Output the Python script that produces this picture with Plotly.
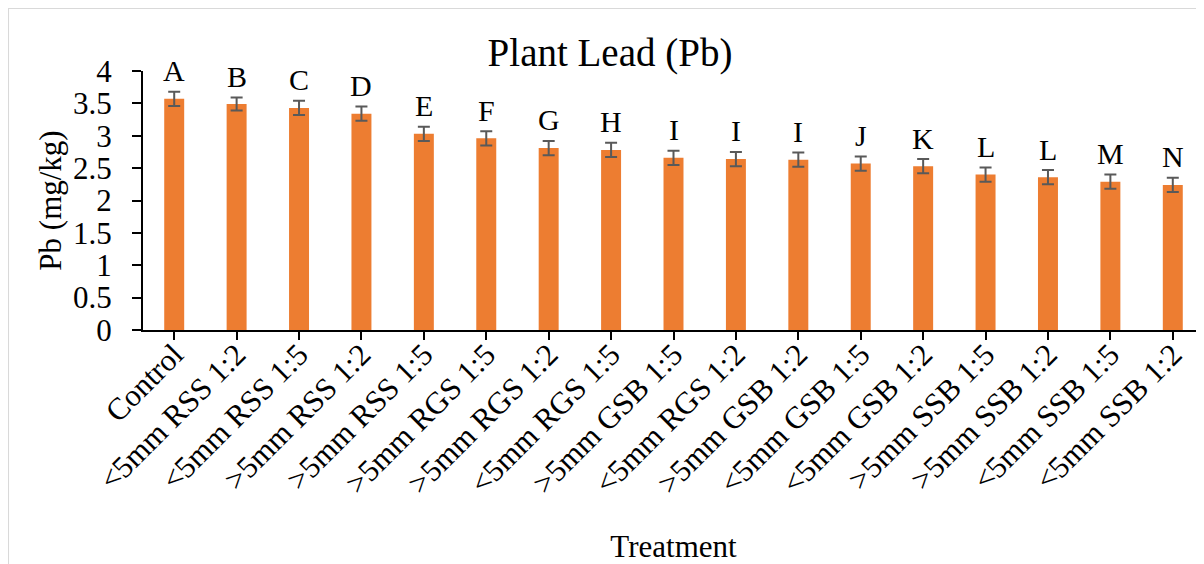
import plotly.graph_objects as go

categories = [
    "Control", "<5mm RSS 1:2", "<5mm RSS 1:5", ">5mm RSS 1:2", ">5mm RSS 1:5",
    ">5mm RGS 1:5", ">5mm RGS 1:2", "<5mm RGS 1:5", ">5mm GSB 1:5", "<5mm RGS 1:2",
    ">5mm GSB 1:2", "<5mm GSB 1:5", "<5mm GSB 1:2", ">5mm SSB 1:5", ">5mm SSB 1:2",
    "<5mm SSB 1:5", "<5mm SSB 1:2",
]
pb_values = [3.57, 3.49, 3.43, 3.34, 3.03, 2.96, 2.81, 2.78, 2.66, 2.64,
             2.63, 2.57, 2.53, 2.40, 2.36, 2.29, 2.24]
pb_errors = [0.11, 0.10, 0.11, 0.11, 0.11, 0.11, 0.11, 0.11, 0.11, 0.11,
             0.11, 0.11, 0.11, 0.11, 0.11, 0.11, 0.11]
letters = ["A", "B", "C", "D", "E", "F", "G", "H", "I", "I",
           "I", "J", "K", "L", "L", "M", "N"]
y_ticks = [0, 0.5, 1, 1.5, 2, 2.5, 3, 3.5, 4]

FONT = "Liberation Serif, Times New Roman, serif"

fig = go.Figure()
fig.add_trace(go.Bar(
    x=categories,
    y=pb_values,
    width=0.32,
    marker=dict(color="#ED7D31", line=dict(width=0)),
    error_y=dict(type="data", array=pb_errors, visible=True,
                 color="#595959", thickness=2, width=6),
    showlegend=False,
))

for cat, v, e, lab in zip(categories, pb_values, pb_errors, letters):
    fig.add_annotation(x=cat, y=v + e, text=lab, showarrow=False,
                       xref="x", yref="y", yanchor="middle", yshift=21,
                       font=dict(family=FONT, size=30, color="#000000"))

# light grey chart-area border (left and top edges visible)
fig.add_shape(type="rect", xref="paper", yref="paper",
              x0=-0.1272, x1=1.2, y0=-1.2, y1=1.243,
              line=dict(color="#D9D9D9", width=2), layer="below")

fig.update_layout(
    width=1196, height=556,
    margin=dict(l=135, r=0, t=63, b=234, autoexpand=False),
    paper_bgcolor="white", plot_bgcolor="white",
    font=dict(family=FONT, size=30, color="#000000"),
    title=dict(text="Plant Lead (Pb)", x=602 / 1196, xref="container", xanchor="center",
               y=1 - 44 / 556, yref="container", yanchor="middle",
               font=dict(family=FONT, size=39, color="#000000")),
)
fig.update_xaxes(
    showline=True, linecolor="#000000", linewidth=2,
    ticks="outside", ticklen=8, tickwidth=2, tickcolor="#000000",
    tickangle=-45, tickfont=dict(family=FONT, size=31),
    ticklabelstandoff=-16,
    range=[-0.5, len(categories) - 0.5],
    title=dict(text="Treatment", font=dict(family=FONT, size=31), standoff=40),
    automargin=False,
)
fig.update_yaxes(
    range=[0, 4], tickvals=y_ticks,
    showline=True, linecolor="#000000", linewidth=2,
    ticks="outside", ticklen=9, tickwidth=2, tickcolor="#000000",
    showgrid=False, zeroline=False,
    tickfont=dict(family=FONT, size=31), ticklabelstandoff=14,
    title=dict(text="Pb (mg/kg)", font=dict(family=FONT, size=31), standoff=2),
    automargin=False,
)

fig.write_html("out.html")
